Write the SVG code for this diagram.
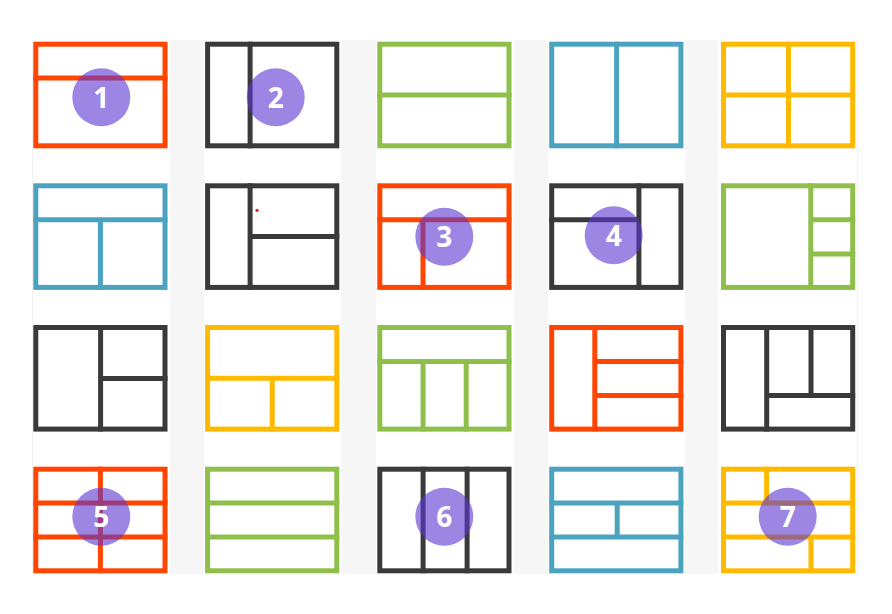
<svg xmlns="http://www.w3.org/2000/svg" width="892" height="614" viewBox="0 0 892 614">
  <style>
    .tile path, .tile rect { fill: none; stroke-width: 5; stroke-linecap: square; }
    .orange path, .orange rect { stroke: #ff4500; }
    .dark path, .dark rect { stroke: #3a3a3c; }
    .green path, .green rect { stroke: #8fbf4b; }
    .blue path, .blue rect { stroke: #4ba3c0; }
    .yellow path, .yellow rect { stroke: #ffba00; }
    .badge circle { fill: #5c35d0; fill-opacity: 0.6; }
    .badge text { fill: #ffffff; font-family: "Open Sans", "Noto Sans", sans-serif; font-weight: bold; font-size: 28px; text-anchor: middle; }
    .stripe { fill: #f6f6f6; }
    .edge { stroke: #f1f1f1; stroke-width: 1; }
  </style>
  <rect width="892" height="614" fill="#ffffff"/>
  <g id="background">
    <rect class="stripe" x="170" y="40" width="34" height="534"/>
    <rect class="stripe" x="341" y="40" width="35" height="534"/>
    <rect class="stripe" x="514" y="40" width="34" height="534"/>
    <rect class="stripe" x="685" y="40" width="33" height="534"/>
    <line class="edge" x1="32.5" y1="40" x2="32.5" y2="574"/>
    <line class="edge" x1="857.5" y1="40" x2="857.5" y2="574"/>
  </g>

  <!-- Row 1 -->
  <g id="t00" class="tile orange" transform="translate(33.3 41.7)"><rect x="2.5" y="2.5" width="129.2" height="101.6"/><path d="M2.5 36.4H131.7"/></g>
  <g id="t01" class="tile dark" transform="translate(205.1 41.7)"><rect x="2.5" y="2.5" width="129.2" height="101.6"/><path d="M45 2.5V104.1"/></g>
  <g id="t02" class="tile green" transform="translate(377.3 41.7)"><rect x="2.5" y="2.5" width="129.2" height="101.6"/><path d="M2.5 53.3H131.7"/></g>
  <g id="t03" class="tile blue" transform="translate(549.2 41.7)"><rect x="2.5" y="2.5" width="129.2" height="101.6"/><path d="M67.4 2.5V104.1"/></g>
  <g id="t04" class="tile yellow" transform="translate(721 41.7)"><rect x="2.5" y="2.5" width="129.2" height="101.6"/><path d="M67.5 2.5V104.1M2.5 53.3H131.7"/></g>

  <!-- Row 2 -->
  <g id="t10" class="tile blue" transform="translate(33.3 183.3)"><rect x="2.5" y="2.5" width="129.2" height="101.6"/><path d="M2.5 36.4H131.7M67.1 36.4V104.1"/></g>
  <g id="t11" class="tile dark" transform="translate(205.1 183.3)"><rect x="2.5" y="2.5" width="129.2" height="101.6"/><path d="M45 2.5V104.1M45 53.3H131.7"/></g>
  <g id="t12" class="tile orange" transform="translate(377.3 183.3)"><rect x="2.5" y="2.5" width="129.2" height="101.6"/><path d="M2.5 36.4H131.7M45.7 36.4V104.1"/></g>
  <g id="t13" class="tile dark" transform="translate(549.2 183.3)"><rect x="2.5" y="2.5" width="129.2" height="101.6"/><path d="M89.7 2.5V104.1M2.5 36.4H89.7"/></g>
  <g id="t14" class="tile green" transform="translate(721 183.3)"><rect x="2.5" y="2.5" width="129.2" height="101.6"/><path d="M89.8 2.5V104.1M89.8 36.4H131.7M89.8 70.6H131.7"/></g>

  <!-- Row 3 -->
  <g id="t20" class="tile dark" transform="translate(33.3 325)"><rect x="2.5" y="2.5" width="129.2" height="101.6"/><path d="M67.3 2.5V104.1M67.3 53.5H131.7"/></g>
  <g id="t21" class="tile yellow" transform="translate(205.1 325)"><rect x="2.5" y="2.5" width="129.2" height="101.6"/><path d="M2.5 53.3H131.7M67.1 53.3V104.1"/></g>
  <g id="t22" class="tile green" transform="translate(377.3 325)"><rect x="2.5" y="2.5" width="129.2" height="101.6"/><path d="M2.5 36.4H131.7M45.8 36.4V104.1M88.9 36.4V104.1"/></g>
  <g id="t23" class="tile orange" transform="translate(549.2 325)"><rect x="2.5" y="2.5" width="129.2" height="101.6"/><path d="M45.6 2.5V104.1M45.6 36.4H131.7M45.6 70.5H131.7"/></g>
  <g id="t24" class="tile dark" transform="translate(721 325)"><rect x="2.5" y="2.5" width="129.2" height="101.6"/><path d="M45.7 2.5V104.1M45.7 70.5H131.7M90 2.5V70.5"/></g>

  <!-- Row 4 -->
  <g id="t30" class="tile orange" transform="translate(33.3 466.7)"><rect x="2.5" y="2.5" width="129.2" height="101.6"/><path d="M2.5 36.4H131.7M2.5 70.4H131.7M67.1 2.5V104.1"/></g>
  <g id="t31" class="tile green" transform="translate(205.1 466.7)"><rect x="2.5" y="2.5" width="129.2" height="101.6"/><path d="M2.5 36.4H131.7M2.5 70.4H131.7"/></g>
  <g id="t32" class="tile dark" transform="translate(377.3 466.7)"><rect x="2.5" y="2.5" width="129.2" height="101.6"/><path d="M45.8 2.5V104.1M89.8 2.5V104.1"/></g>
  <g id="t33" class="tile blue" transform="translate(549.2 466.7)"><rect x="2.5" y="2.5" width="129.2" height="101.6"/><path d="M2.5 36.4H131.7M2.5 70.4H131.7M68 36.4V70.4"/></g>
  <g id="t34" class="tile yellow" transform="translate(721 466.7)"><rect x="2.5" y="2.5" width="129.2" height="101.6"/><path d="M2.5 36.4H131.7M2.5 70.4H131.7M45.6 2.5V36.4M90 70.4V104.1"/></g>

  <circle id="dot" cx="257" cy="210.3" r="1.6" fill="#e0201c"/>

  <!-- Badges -->
  <g id="b1" class="badge"><circle cx="101.3" cy="97.3" r="29"/><text x="101.3" y="107.5">1</text></g>
  <g id="b2" class="badge"><circle cx="275.7" cy="97.3" r="29"/><text x="275.7" y="107.5">2</text></g>
  <g id="b3" class="badge"><circle cx="444.3" cy="236.7" r="29"/><text x="444.3" y="246.9">3</text></g>
  <g id="b4" class="badge"><circle cx="613.7" cy="235.3" r="29"/><text x="613.7" y="245.5">4</text></g>
  <g id="b5" class="badge"><circle cx="101.3" cy="516.7" r="29"/><text x="101.3" y="526.9">5</text></g>
  <g id="b6" class="badge"><circle cx="444.3" cy="516.7" r="29"/><text x="444.3" y="526.9">6</text></g>
  <g id="b7" class="badge"><circle cx="787.7" cy="516.7" r="29"/><text x="787.7" y="526.9">7</text></g>
</svg>
